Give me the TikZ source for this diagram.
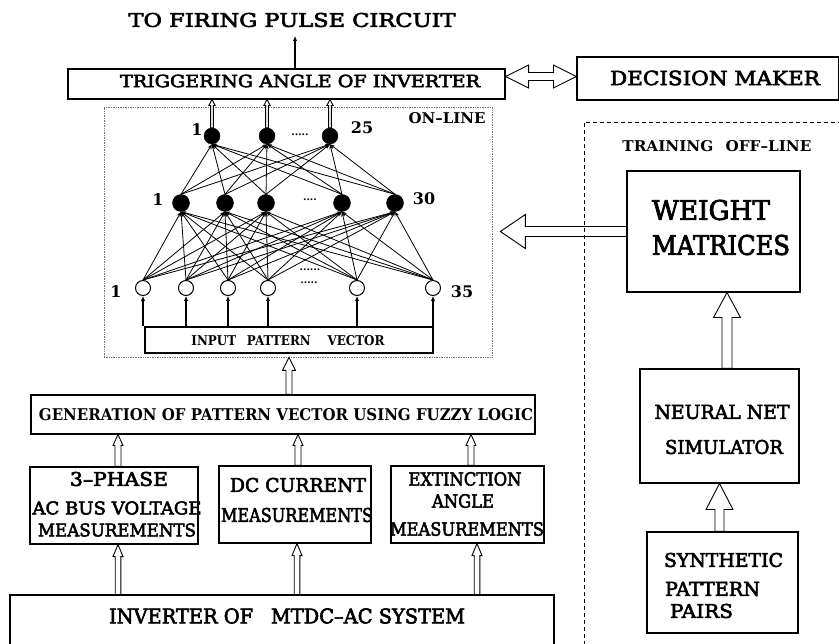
\documentclass[tikz,border=0pt]{standalone}
\usepackage{fontspec}
\setmainfont{DejaVu Serif}
\newfontfamily\heavyserif{DejaVu Serif}[FakeBold=3]
\usepackage{graphicx}
\usetikzlibrary{arrows.meta,calc}
% text set to a given width and cap height
\newcommand\fitt[3]{\resizebox{#1pt}{#2pt}{#3}}

\begin{document}
\begin{tikzpicture}[x=1pt,y=-1pt,
  box/.style={draw, line width=1.1pt, inner sep=0pt},
  lbl/.style={inner sep=0pt, font=\heavyserif},
  bold/.style={inner sep=0pt, font=\bfseries},
  num/.style={inner sep=0pt, font=\fontsize{16}{16}\selectfont\bfseries},
  dotrow/.style={inner sep=0pt, font=\fontsize{10}{10}\selectfont\bfseries},
  neuronf/.style={circle, fill=black, draw=black, minimum size=16pt, inner sep=0pt},
  neuronh/.style={circle, fill=black, draw=black, minimum size=17pt, inner sep=0pt},
  neuroni/.style={circle, draw=black, fill=white, line width=1pt, minimum size=15pt, inner sep=0pt},
  link/.style={line width=0.8pt, -{Stealth[length=5pt,width=3.5pt]}},
  feed/.style={line width=1.6pt, -{Latex[length=5pt,width=4.5pt]}},
  % hollow block arrow: shaft half width, head half width, head length
  fat/.style n args={3}{draw, line width=0.9pt, fill=white,
    to path={let \p1=($(\tikztotarget)-(\tikztostart)$), \n1={veclen(\x1,\y1)}, \n2={atan2(\y1,\x1)} in
      ([shift={(\tikztostart)},rotate=\n2]0,#1)
      -- ([shift={(\tikztostart)},rotate=\n2]{\n1-#3},#1)
      -- ([shift={(\tikztostart)},rotate=\n2]{\n1-#3},#2)
      -- ([shift={(\tikztostart)},rotate=\n2]\n1,0)
      -- ([shift={(\tikztostart)},rotate=\n2]{\n1-#3},-#2)
      -- ([shift={(\tikztostart)},rotate=\n2]{\n1-#3},-#1)
      -- ([shift={(\tikztostart)},rotate=\n2]0,-#1) -- cycle}},
  fatboth/.style n args={3}{draw, line width=0.9pt, fill=white,
    to path={let \p1=($(\tikztotarget)-(\tikztostart)$), \n1={veclen(\x1,\y1)}, \n2={atan2(\y1,\x1)} in
      ([shift={(\tikztostart)},rotate=\n2]#3,#1)
      -- ([shift={(\tikztostart)},rotate=\n2]{\n1-#3},#1)
      -- ([shift={(\tikztostart)},rotate=\n2]{\n1-#3},#2)
      -- ([shift={(\tikztostart)},rotate=\n2]\n1,0)
      -- ([shift={(\tikztostart)},rotate=\n2]{\n1-#3},-#2)
      -- ([shift={(\tikztostart)},rotate=\n2]{\n1-#3},-#1)
      -- ([shift={(\tikztostart)},rotate=\n2]#3,-#1)
      -- ([shift={(\tikztostart)},rotate=\n2]#3,-#2)
      -- ([shift={(\tikztostart)},rotate=\n2]0,0)
      -- ([shift={(\tikztostart)},rotate=\n2]#3,#2) -- cycle}},
]
\useasboundingbox (0,0) rectangle (839,644);
\fill[white] (0,0) rectangle (839,644);
\clip (0,0) rectangle (839,644);

% ---------- top: trigger angle and decision maker ----------
\node[lbl] (tfire) at (292,20) {\fitt{327}{14}{TO FIRING PULSE CIRCUIT}};
\node[box, minimum width=437pt, minimum height=30pt] (trig) at (286.5,84) {};
\node[lbl] (ttrig) at (300,81) {\fitt{360}{12.5}{TRIGGERING ANGLE OF INVERTER}};
\node[box, minimum width=262pt, minimum height=43pt] (dec) at (708,78.5) {};
\node[lbl] (tdec) at (715,78) {\fitt{210}{14.5}{DECISION MAKER}};
\coordinate (firetip) at (295,36);
\draw[feed] (trig.north -| firetip) -- (firetip);
\coordinate (dm) at ([yshift=2pt]dec.west);
\draw[fatboth={4}{11.5}{23}] (trig.east |- dm) to (dm);

% ---------- on-line network ----------
\node[draw=black!55, densely dotted, line width=0.7pt, minimum width=388pt, minimum height=250pt, inner sep=0pt] (online) at (298,232) {};
\node[bold] (ton) at (447,118) {\fitt{77}{11}{ON–LINE}};

\node[neuronf] (o1) at (212,136) {};
\node[neuronf] (o2) at (267,136) {};
\node[neuronf] (o3) at (330,136) {};

\node[neuronh] (h1) at (181,203) {};
\node[neuronh] (h2) at (225,203) {};
\node[neuronh] (h3) at (266,203) {};
\node[neuronh] (h4) at (342,203) {};
\node[neuronh] (h5) at (395,203) {};

\node[neuroni] (i1) at (143,288) {};
\node[neuroni] (i2) at (186,288) {};
\node[neuroni] (i3) at (228,288) {};
\node[neuroni] (i4) at (268,288) {};
\node[neuroni] (i5) at (357,288) {};
\node[neuroni] (i6) at (433,288) {};

\foreach \i in {1,...,6}
  \foreach \j in {1,...,5}
    \draw[link] (i\i.north) -- (h\j.south);
\foreach \j in {1,...,5}
  \foreach \k in {1,2,3}
    \draw[link] (h\j.north) -- (o\k.south);

\node[num] (lo1) at (197,130) {1};
\node[num] (lo25) at (362,128) {25};
\node[num] (lh1) at (158,200) {1};
\node[num] (lh30) at (424,199) {30};
\node[num] (li1) at (116,292) {1};
\node[num] (li35) at (462,292) {35};
\node[dotrow] (dto) at (300,135) {.....};
\node[dotrow] (dth) at (310,200) {....};
\node[dotrow] (dtu) at (310,270) {......};
\node[dotrow] (dti) at (309,283) {.....};

\foreach \k in {1,2,3}
  \draw[fat={1.4}{3.2}{6}] (o\k.north) to (o\k.north |- trig.south);

\node[box, minimum width=288pt, minimum height=26pt] (ipv) at (289,340) {};
\node[bold] (tipv) at (288,341) {\fitt{193}{10}{INPUT\hspace{0.9em}PATTERN\hspace{1.4em}VECTOR}};
\foreach \i in {1,...,6}
  \draw[feed] (i\i.south |- ipv.north) -- (i\i.south);

% ---------- measurement chain ----------
\node[box, minimum width=504pt, minimum height=39pt] (fuzzy) at (283,414.5) {};
\node[bold] (tfuzzy) at (286,415) {\fitt{494}{12}{GENERATION OF PATTERN VECTOR USING FUZZY LOGIC}};
\draw[fat={3}{6.5}{13}] (fuzzy.north -| ipv.south) to (online.south -| ipv.south);

\node[box, minimum width=168pt, minimum height=77pt] (m1) at (114,505.5) {};
\node[box, minimum width=152pt, minimum height=77pt] (m2) at (295,504.5) {};
\node[box, minimum width=153pt, minimum height=77pt] (m3) at (467.5,504.5) {};
\node[lbl] (m1a) at (119,479) {\fitt{98}{14}{3–PHASE}};
\node[lbl] (m1b) at (117,508) {\fitt{169}{13}{AC BUS VOLTAGE}};
\node[lbl] (m1c) at (117,530) {\fitt{158}{13}{MEASUREMENTS}};
\node[lbl] (m2a) at (298,485) {\fitt{136}{14}{DC CURRENT}};
\node[lbl] (m2b) at (297,515) {\fitt{152}{14}{MEASUREMENTS}};
\node[lbl] (m3a) at (465,479) {\fitt{113}{13.5}{EXTINCTION}};
\node[lbl] (m3b) at (463,501) {\fitt{62}{13.5}{ANGLE}};
\node[lbl] (m3c) at (467,529) {\fitt{154}{13.5}{MEASUREMENTS}};

\coordinate (u1) at ([xshift=4pt]m1.north);
\coordinate (u2) at ([xshift=3pt]m2.north);
\coordinate (u3) at ([xshift=3.5pt]m3.north);
\foreach \u in {u1,u2,u3}
  \draw[fat={3}{5}{11}] (\u) to (\u |- fuzzy.south);

\node[box, minimum width=544pt, minimum height=60pt] (inv) at (282,625) {};
\node[lbl] (tinv) at (287,616) {\fitt{356}{15}{INVERTER OF\hspace{0.6em} MTDC–AC SYSTEM}};
\coordinate (d1) at ([xshift=4pt]m1.south);
\coordinate (d2) at ([xshift=2pt]m2.south);
\coordinate (d3) at ([xshift=9.5pt]m3.south);
\foreach \d in {d1,d2,d3}
  \draw[fat={2.8}{5}{12}] (\d |- inv.north) to (\d);

% ---------- off-line training ----------
\node[lbl, font=\bfseries] (ttrain) at (717,146) {\fitt{189}{11}{TRAINING\hspace{0.8em}OFF–LINE}};
\node[box, minimum width=173pt, minimum height=121pt] (weight) at (713.5,231.5) {};
\node[lbl] (tw1) at (711,210) {\fitt{118}{20}{WEIGHT}};
\node[lbl] (tw2) at (721,245) {\fitt{138}{20}{MATRICES}};
\node[box, minimum width=159pt, minimum height=114pt] (neural) at (719.5,426) {};
\node[lbl] (tn1) at (722,412) {\fitt{135}{14}{NEURAL NET}};
\node[lbl] (tn2) at (724,447) {\fitt{118}{14}{SIMULATOR}};
\node[box, minimum width=151pt, minimum height=101pt] (synth) at (722.5,582.5) {};
\node[lbl] (ts1) at (723.5,560) {\fitt{119}{14}{SYNTHETIC}};
\node[lbl] (ts2) at (712.5,589) {\fitt{95}{14}{PATTERN}};
\node[lbl] (ts3) at (701.5,611) {\fitt{63}{14}{PAIRS}};

\coordinate (wtip) at ([xshift=8pt]online.east |- weight.west);
\draw[fat={5}{17}{25}] (weight.west) to (wtip);
\coordinate (nw) at ([xshift=7.5pt]neural.north);
\draw[fat={5}{13.5}{25}] (nw) to (nw |- weight.south);
\draw[fat={4.5}{13.5}{26}] (synth.north -| neural.south) to (neural.south);

\node[draw=black, dash pattern=on 4pt off 3pt, line width=0.9pt, minimum width=266pt, minimum height=538pt, inner sep=0pt] (train) at (717,391) {};
\end{tikzpicture}
\end{document}
